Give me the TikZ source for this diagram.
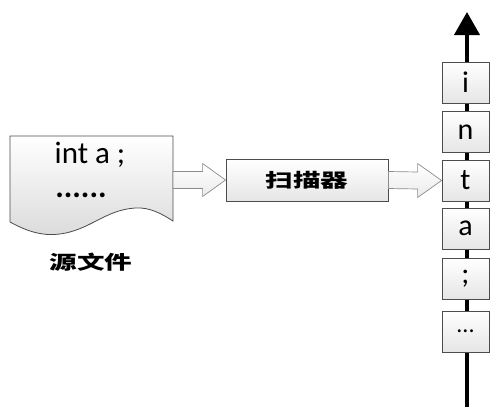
\documentclass[tikz,border=0pt]{standalone}
\usepackage{fontspec}
\setmainfont{Carlito}
\newfontfamily\cjk{Noto Sans CJK SC}
\usetikzlibrary{arrows.meta,calc}
\tikzset{
  outl/.style={draw=black!70, line width=0.8pt},
  fatarrow/.style={draw=black!45, line width=0.7pt, top color=white, bottom color=black!8},
  cell/.style={outl, top color=white, bottom color=black!10, minimum width=47pt, minimum height=41pt, inner sep=0pt, font=\fontsize{30}{30}\selectfont},
  scanbox/.style={outl, top color=white, bottom color=black!10, minimum width=162pt, minimum height=42pt, inner sep=0pt},
  cjklabel/.style={inner sep=0pt, font=\cjk\bfseries\fontsize{19}{19}\selectfont}
}
\begin{document}
\begin{tikzpicture}[x=1pt,y=-1pt]
\useasboundingbox (0,0) rectangle (503,416);
% source document
\path[outl, top color=white, bottom color=black!14]
  (10,136) -- (173,136) -- (173,221)
  .. controls (162,214) and (150,207) .. (135,208)
  .. controls (105,210) and (90,230) .. (60,234)
  .. controls (45,236) and (30,233) .. (10,222) -- cycle;
\node (code1) [inner sep=0pt, anchor=base, font=\fontsize{31}{31}\selectfont] at (90,163) {int a ;};
\node (code2) [inner sep=0pt, anchor=base, font=\bfseries\fontsize{32}{32}\selectfont] at (81,197) {......};
\node (src) [cjklabel] at (91,262) {\scalebox{1.45}[1]{源文件}};
\coordinate (docE) at (173,180);
% scanner
\node (scan) [scanbox] at (307,180) {};
\node (scanlabel) [cjklabel] at (307,180) {\scalebox{1.45}[1]{扫描器}};
% vertical token stream
\coordinate (bot) at (467,407);
\coordinate (top) at (467,12);
\draw[line width=4pt, -{Triangle[width=25pt,length=23pt]}] (bot) -- (top);
\node (b1) [cell] at (465.5,82.5) {i};
\node (b2) [cell] at (465.5,132) {n};
\node (b3) [cell] at (465.5,180.5) {t};
\node (b4) [cell] at (465.5,228.5) {a};
\node (b5) [cell] at (465.5,279) {;};
\node (b6) [cell, font=\fontsize{24}{24}\selectfont] at (465.5,331.5) {...};
% fat arrows
\path[fatarrow] ($(docE)+(0,-8.5)$) -- ($(scan.west)+(-23,-8.5)$) -- ($(scan.west)+(-23,-16.5)$)
  -- (scan.west) -- ($(scan.west)+(-23,16.5)$) -- ($(scan.west)+(-23,8.5)$) -- ($(docE)+(0,8.5)$) -- cycle;
\path[fatarrow] ($(scan.east)+(0,-8.5)$) -- ($(b3.west)+(-24,-8.5)$) -- ($(b3.west)+(-24,-17)$)
  -- (b3.west) -- ($(b3.west)+(-24,17)$) -- ($(b3.west)+(-24,8.5)$) -- ($(scan.east)+(0,8.5)$) -- cycle;
\end{tikzpicture}
\end{document}
